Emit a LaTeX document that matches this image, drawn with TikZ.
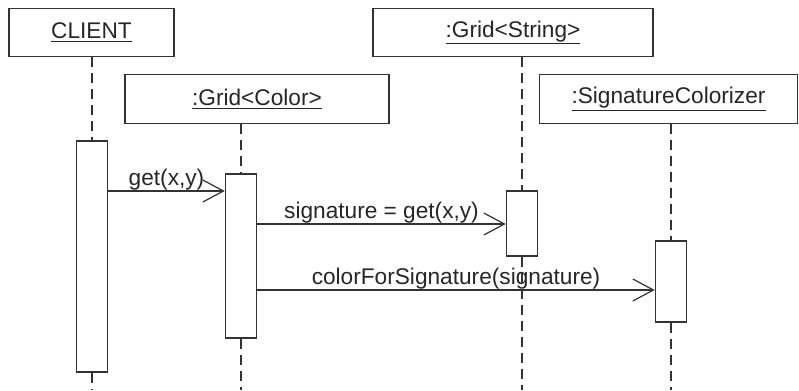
\documentclass[tikz,border=0pt]{standalone}
\usepackage{fontspec}
\setmainfont{Liberation Sans}
\usetikzlibrary{arrows.meta}

\begin{document}
\begin{tikzpicture}[
   x=0.75pt, y=-0.75pt,
   line width=0.9pt,
   every node/.style={text=black!85},
   font=\fontsize{17}{20}\selectfont,
   object/.style={draw=black!80, fill=white, inner sep=0pt, minimum height=36.5pt},
   activation/.style={draw=black!80, fill=white, inner sep=0pt, minimum width=23.5pt},
   lifeline/.style={draw=black!80, dash pattern=on 7.5pt off 4.5pt},
   message/.style={draw=black!80, -{Straight Barb[length=15.5pt, width=16.5pt]}},
   msglabel/.style={midway, anchor=base, yshift=4pt}
]
   \useasboundingbox (0,0) rectangle (799,390);

   % objects
   \node[object, minimum width=123.75pt] (client) at (91.5,32.5) {\underline{CLIENT}};
   \node[object, minimum width=198pt] (gridcolor) at (257,99) {\underline{:Grid<Color>}};
   \node[object, minimum width=210pt] (gridstring) at (513,32.5) {\underline{:Grid<String>}};
   \node[object, minimum width=194pt] (colorizer) at (668.5,99) {\underline{:SignatureColorizer}};

   % activations
   \node[activation, minimum height=173.25pt] (a1) at (92,256.5) {};
   \node[activation, minimum height=123pt] (a2) at (241,256) {};
   \node[activation, minimum height=48.75pt] (a3) at (522,223.5) {};
   \node[activation, minimum height=60.75pt] (a4) at (671,281.5) {};

   \coordinate (bottom) at (0,390);
   \coordinate (m1) at (0,191);
   \coordinate (m2) at (0,224);
   \coordinate (m3) at (0,290);

   % lifelines
   \draw[lifeline] (client.south -| a1.north) -- (a1.north);
   \draw[lifeline] (a1.south) -- (a1.south |- bottom);
   \draw[lifeline] (gridcolor.south -| a2.north) -- (a2.north);
   \draw[lifeline] (a2.south) -- (a2.south |- bottom);
   \draw[lifeline] (gridstring.south -| a3.north) -- (a3.north);
   \draw[lifeline] (a3.south) -- (a3.south |- bottom);
   \draw[lifeline] (colorizer.south -| a4.north) -- (a4.north);
   \draw[lifeline] (a4.south) -- (a4.south |- bottom);

   % messages
   \draw[message] (a1.east |- m1) -- (a2.west |- m1) node[msglabel] {get(x,y)};
   \draw[message] (a2.east |- m2) -- (a3.west |- m2) node[msglabel] {signature = get(x,y)};
   \draw[message] (a2.east |- m3) -- (a4.west |- m3) node[msglabel] {colorForSignature(signature)};
\end{tikzpicture}
\end{document}
